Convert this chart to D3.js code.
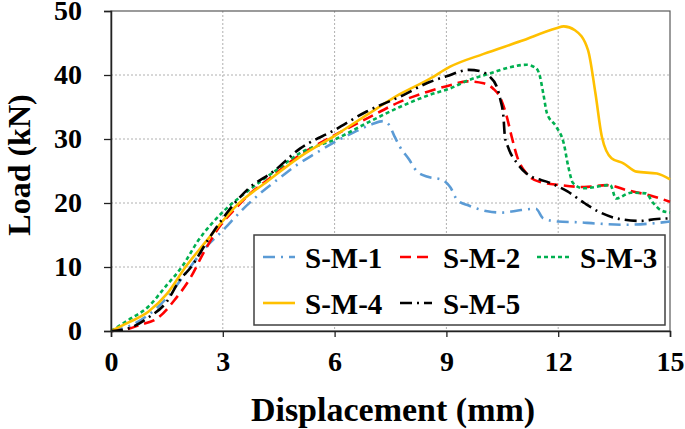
<!DOCTYPE html>
<html><head><meta charset="utf-8">
<script src="https://cdn.jsdelivr.net/npm/d3@7"></script>
<style>body{margin:0;background:#fff}svg{display:block}text{font-family:"Liberation Serif","Times New Roman",serif;font-weight:bold}</style>
</head><body><svg id="c" width="685" height="429"></svg>
<script>
const xTicks=[0,3,6,9,12,15];
const yTicks=[0,10,20,30,40,50];
const seriesNames=["S-M-1","S-M-2","S-M-3","S-M-4","S-M-5"];
const sm1=[[0,0],[0.5,0.8],[1.0,2.5],[1.5,5.2],[2.0,9.0],[2.5,12.8],[3.0,15.7],[3.5,18.8],[4.0,21.5],[4.5,23.8],[5.0,26.0],[5.5,27.8],[6.0,29.5],[6.5,31.0],[7.0,32.3],[7.3,32.8],[7.45,32.3],[7.6,30.5],[7.75,28.8],[8.0,26.8],[8.2,25.0],[8.5,24.1],[8.9,23.6],[9.1,22.5],[9.3,20.4],[9.6,19.6],[10.1,18.7],[10.5,18.5],[11.0,18.9],[11.4,19.1],[11.6,17.6],[12.0,17.1],[12.5,17.0],[13.0,16.8],[13.8,16.6],[14.5,16.8],[15,17.1]];
const sm2=[[0,0],[0.5,0.4],[0.75,0.9],[1.25,2.0],[1.7,4.8],[2.15,8.5],[2.5,12.4],[2.9,16.2],[3.3,18.9],[3.7,21.3],[4.2,23.6],[5.0,27.2],[6.0,30.6],[6.9,33.3],[7.75,35.8],[8.5,37.4],[9.1,38.4],[9.55,39.0],[10.0,38.7],[10.25,37.9],[10.45,36.4],[10.62,33.5],[10.75,30.4],[10.9,27.2],[11.15,24.6],[11.5,23.3],[12.05,22.8],[12.7,22.5],[13.3,22.8],[13.85,22.0],[14.45,21.2],[15,20.2]];
const sm3=[[0,0],[0.46,1.7],[1.0,3.8],[1.5,7.2],[1.9,10.0],[2.35,14.2],[3.0,18.6],[3.7,22.0],[4.45,25.2],[5.07,27.8],[6.0,29.9],[6.9,32.6],[7.75,35.0],[8.55,36.9],[9.1,37.9],[9.6,39.2],[10.2,40.3],[10.7,41.2],[11.15,41.6],[11.4,41.1],[11.5,40.0],[11.6,37.1],[11.7,34.0],[11.95,31.9],[12.15,29.3],[12.27,25.7],[12.4,23.1],[12.67,22.3],[13.4,22.8],[13.55,20.7],[13.95,21.6],[14.35,21.5],[14.55,20.0],[14.75,18.9],[15,18.5]];
const sm4=[[0,0],[0.46,1.3],[1.0,3.0],[1.5,5.8],[2.0,10.0],[2.55,14.0],[3.0,17.2],[3.3,19.2],[4.2,23.4],[5.07,27.2],[6.0,30.5],[6.9,33.9],[7.75,37.0],[8.55,39.4],[9.1,41.3],[10.0,43.3],[11.0,45.3],[11.95,47.3],[12.15,47.6],[12.45,47.0],[12.8,43.9],[13.0,37.1],[13.17,30.4],[13.43,27.0],[13.75,26.2],[14.1,24.9],[14.65,24.6],[15,23.7]];
const sm5=[[0,0],[0.46,0.4],[1.0,2.1],[1.5,4.6],[1.85,8.0],[2.15,10.0],[2.6,14.2],[3.0,17.6],[3.7,22.3],[4.35,24.9],[5.07,28.5],[6.0,31.4],[6.86,34.3],[7.75,36.6],[8.55,38.9],[9.0,39.8],[9.6,40.8],[9.9,40.6],[10.15,39.8],[10.35,38.2],[10.45,36.1],[10.53,33.5],[10.57,30.4],[10.65,28.8],[10.9,26.2],[11.15,24.6],[11.8,23.1],[12.25,21.8],[12.7,20.0],[13.1,18.6],[13.65,17.5],[14.2,17.2],[14.65,17.5],[15,17.6]];
const seriesData=[sm1,sm2,sm3,sm4,sm5];
const colors=["#5B9BD5","#FF0000","#00B050","#FFC000","#000000"];
const dashes=["12,6,2,6","11,6","4,3",null,"12,5,2,5"];

const svg=d3.select("#c");
const L=111,R=670,T=11,B=331;
const x=d3.scaleLinear().domain([0,15]).range([L,R]);
const y=d3.scaleLinear().domain([0,50]).range([B,T]);

svg.append("g").selectAll("line").data(yTicks.filter(d=>d>0&&d<50)).join("line")
 .attr("x1",L).attr("x2",R).attr("y1",d=>y(d)).attr("y2",d=>y(d))
 .attr("stroke","#b0b0b0").attr("stroke-width",1).attr("stroke-dasharray","2,2");
svg.append("g").selectAll("line").data(xTicks.filter(d=>d>0&&d<15)).join("line")
 .attr("y1",T).attr("y2",B).attr("x1",d=>x(d)).attr("x2",d=>x(d))
 .attr("stroke","#b0b0b0").attr("stroke-width",1).attr("stroke-dasharray","2,2");
svg.append("rect").attr("x",L).attr("y",T).attr("width",R-L).attr("height",B-T)
 .attr("fill","none").attr("stroke","#595959").attr("stroke-width",1.2);

const line=d3.line().x(d=>x(d[0])).y(d=>y(d[1])).curve(d3.curveMonotoneX);
seriesData.forEach((s,i)=>{
  svg.append("path").datum(s).attr("d",line).attr("fill","none")
   .attr("stroke",colors[i]).attr("stroke-width",2.6)
   .attr("stroke-dasharray",dashes[i]);
});

const xa=svg.append("g").attr("transform",`translate(0,${B})`)
 .call(d3.axisBottom(x).tickValues(xTicks).tickSize(6).tickPadding(14));
const ya=svg.append("g").attr("transform",`translate(${L},0)`)
 .call(d3.axisLeft(y).tickValues(yTicks).tickSize(7).tickPadding(22));
[xa,ya].forEach(a=>{
  a.select(".domain").attr("stroke","#222").attr("stroke-width",1.5);
  a.selectAll(".tick line").attr("stroke","#222").attr("stroke-width",1.3);
  a.selectAll("text").attr("font-size",28).attr("fill","#000")
   .attr("font-family","Liberation Serif").attr("font-weight","bold");
});

svg.append("text").attr("x",393).attr("y",421).attr("text-anchor","middle")
 .attr("font-size",34).text("Displacement (mm)");
svg.append("text").attr("transform","translate(30,165) rotate(-90)").attr("text-anchor","middle")
 .attr("font-size",32).text("Load (kN)");

const lg=svg.append("g");
lg.append("rect").attr("x",254).attr("y",235).attr("width",411).attr("height",90)
 .attr("fill","#fff").attr("stroke","#404040").attr("stroke-width",1.5);
const legPos=[[263,257,305],[400,257,443],[537,257,580],[263,303,305],[400,303,443]];
seriesNames.forEach((n,i)=>{
  const p=legPos[i];
  lg.append("line").attr("x1",p[0]).attr("x2",p[0]+32).attr("y1",p[1]).attr("y2",p[1])
   .attr("stroke",colors[i]).attr("stroke-width",2.6).attr("stroke-dasharray",dashes[i]);
  lg.append("text").attr("x",p[2]).attr("y",p[1]+11).attr("font-size",29).text(n);
});
</script></body></html>
